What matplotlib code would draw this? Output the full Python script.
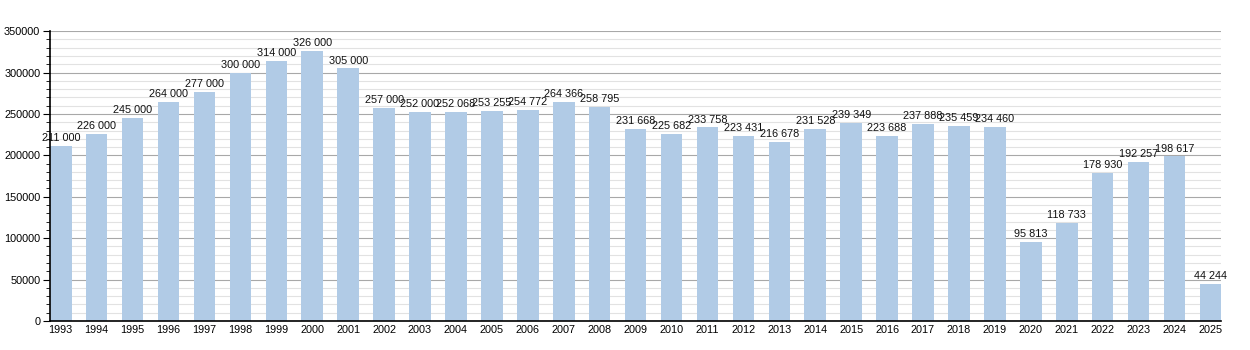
import numpy as np
import matplotlib as mpl
mpl.use('Agg')
import matplotlib.pyplot as plt
from matplotlib.ticker import MultipleLocator

years = list(range(1993, 2026))
values = [211000, 226000, 245000, 264000, 277000, 300000, 314000, 326000,
          305000, 257000, 252000, 252068, 253255, 254772, 264366, 258795,
          231668, 225682, 233758, 223431, 216678, 231528, 239349, 223688,
          237888, 235459, 234460, 95813, 118733, 178930, 192257, 198617,
          44244]

plt.rcParams['font.family'] = ['Liberation Sans', 'DejaVu Sans']

fig = plt.figure(figsize=(12.5, 3.5), dpi=100)
ax = fig.add_axes([0.04, 0.083, 0.937, 0.828])

x = np.arange(len(years))
ax.bar(x, values, width=0.6, color='#b1cbe6', zorder=2)

def fmt(v):
    return f"{v:,}".replace(',', ' ')

for xi, v in zip(x, values):
    ax.text(xi, v + 3500, fmt(v), ha='center', va='bottom', fontsize=7.8,
            color='#111111', zorder=3)

ax.set_xlim(-0.3, len(years) - 0.7)
ax.set_ylim(0, 350000)
ax.set_xticks(x)
ax.set_xticklabels([str(y) for y in years], fontsize=7.8)
ax.tick_params(axis='x', length=0, pad=3)

ax.yaxis.set_major_locator(MultipleLocator(50000))
ax.yaxis.set_minor_locator(MultipleLocator(10000))
ax.tick_params(axis='y', which='major', length=5, labelsize=7.8, pad=2)
ax.tick_params(axis='y', which='minor', length=3)

ax.grid(axis='y', which='major', color='#a8a8a8', linewidth=0.8, zorder=0)
ax.grid(axis='y', which='minor', color='#e2e2e2', linewidth=0.8, zorder=0)
ax.set_axisbelow(True)

for s in ['top', 'right']:
    ax.spines[s].set_visible(False)
ax.spines['left'].set_linewidth(1.2)
ax.spines['bottom'].set_linewidth(1.2)

fig.savefig('out.png', dpi=100)
